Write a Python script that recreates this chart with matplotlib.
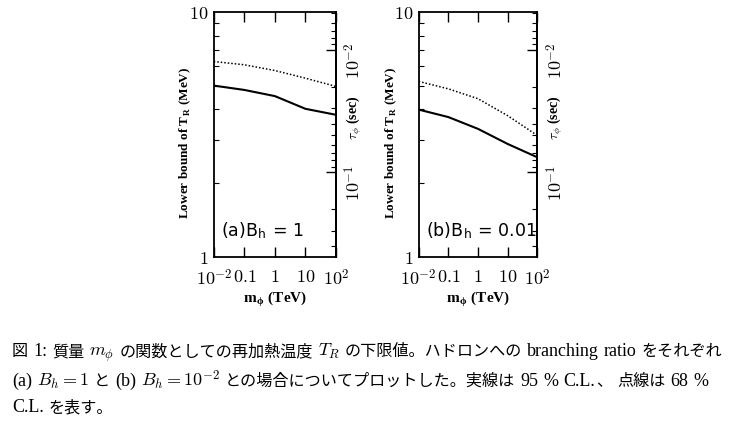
import matplotlib
matplotlib.use('Agg')
import matplotlib.pyplot as plt
import numpy as np
from matplotlib.ticker import LogLocator, NullFormatter, FixedLocator, FixedFormatter

plt.rcParams['mathtext.fontset'] = 'cm'
plt.rcParams['font.family'] = ['Liberation Serif', 'DejaVu Serif']

# data
m_phi = [0.01, 0.1, 1, 10, 100]          # TeV
tr_a_95 = [5.00, 4.80, 4.53, 4.02, 3.80]  # MeV, solid
tr_a_68 = [6.27, 6.08, 5.76, 5.36, 4.96]  # MeV, dotted
tr_b_95 = [3.99, 3.72, 3.33, 2.89, 2.55]
tr_b_68 = [5.20, 4.85, 4.42, 3.77, 3.13]
panel_labels = [r'(a)B$_\mathregular{h}$ = 1', r'(b)B$_\mathregular{h}$ = 0.01']
x_ticks = [0.01, 0.1, 1, 10, 100]
x_ticklabels = [r'$10^{-2}$', r'$0.1$', r'$1$', r'$10$', r'$10^{2}$']
tau_ticks = [0.01, 0.1]
tau_ticklabels = [r'$10^{-2}$', r'$10^{-1}$']
caption = [
    r'図 1: 質量 $m_\phi$ の関数としての再加熱温度 $T_R$ の下限値。ハドロンへの branching ratio をそれぞれ',
    r'(a) $B_h = 1$ と (b) $B_h = 10^{-2}$ との場合についてプロットした。実線は 95 % C.L.、 点線は 68 %',
    'C.L. を表す。',
]

# tau ~ 1/T^2
C_TAU = 0.49
def t_to_tau(t):
    return C_TAU / np.asarray(t, dtype=float) ** 2
def tau_to_t(tau):
    return np.sqrt(C_TAU / np.asarray(tau, dtype=float))

fig = plt.figure(figsize=(7.32, 4.27), dpi=100)
ax_a = fig.add_axes([0.292, 0.396, 0.167, 0.574])
ax_b = fig.add_axes([0.572, 0.396, 0.162, 0.574])

for ax, solid, dotted, lab in [(ax_a, tr_a_95, tr_a_68, panel_labels[0]),
                               (ax_b, tr_b_95, tr_b_68, panel_labels[1])]:
    ax.plot(m_phi, solid, color='black', lw=1.5)
    ax.plot(m_phi, dotted, color='black', lw=1.1, ls=(0, (1, 1.3)))
    ax.set_xscale('log')
    ax.set_yscale('log')
    ax.set_xlim(0.01, 100)
    ax.set_ylim(1, 10)
    ax.xaxis.set_major_locator(FixedLocator(x_ticks))
    ax.xaxis.set_major_formatter(FixedFormatter(x_ticklabels))
    ax.xaxis.set_minor_locator(LogLocator(base=10, subs=np.arange(2, 10)))
    ax.xaxis.set_minor_formatter(NullFormatter())
    ax.yaxis.set_major_locator(FixedLocator([1, 10]))
    ax.yaxis.set_major_formatter(FixedFormatter([r'$1$', r'$10$']))
    ax.yaxis.set_minor_locator(LogLocator(base=10, subs=np.arange(2, 10)))
    ax.yaxis.set_minor_formatter(NullFormatter())
    ax.tick_params(which='both', direction='in', top=True, right=False, labelsize=13)
    ax.tick_params(which='major', length=7, width=1)
    ax.tick_params(which='minor', length=3.5, width=0.8)
    ax.tick_params(axis='x', which='major', pad=8)
    ax.tick_params(axis='y', which='major', length=0, pad=4)
    for s in ax.spines.values():
        s.set_linewidth(1.3)
    ax.set_xlabel(r'm$_\mathregular{\phi}$ (TeV)', fontsize=11, fontweight='bold')
    ax.xaxis.set_label_coords(0.5, -0.128)
    ax.set_ylabel(r'Lower bound of T$_\mathregular{R}$ (MeV)', fontweight='bold', fontsize=9.5)
    ax.yaxis.set_label_coords(-0.17, 0.47)
    ax.text(0.06, 0.09, lab, transform=ax.transAxes, fontsize=12.5, family='DejaVu Sans')

    sec = ax.secondary_yaxis('right', functions=(t_to_tau, tau_to_t))
    sec.yaxis.set_major_locator(FixedLocator(tau_ticks))
    sec.yaxis.set_major_formatter(FixedFormatter(tau_ticklabels))
    sec.yaxis.set_minor_locator(LogLocator(base=10, subs=np.arange(2, 10)))
    sec.yaxis.set_minor_formatter(NullFormatter())
    sec.tick_params(which='both', direction='in', labelsize=13, labelrotation=90, pad=6)
    sec.tick_params(which='major', length=7, width=1)
    sec.tick_params(which='minor', length=3.5, width=0.8)
    sec.spines['right'].set_linewidth(1.3)
    ax.text(1.15, 0.57, r'$\mathbf{\tau_\phi}$ (sec)', transform=ax.transAxes,
            rotation=90, ha='center', va='center', fontweight='bold', fontsize=10)

# caption: CJK runs in Noto Sans CJK, latin in a serif, math through mathtext
renderer = fig.canvas.get_renderer()
W = fig.bbox.width
CJK_SIZE = 11.6
LAT_SIZE = 13.0
SPACE_PX = LAT_SIZE * 0.22 * 100 / 72

def split_runs(s):
    runs = []
    i = 0
    while i < len(s):
        c = s[i]
        if c == '$':
            j = s.index('$', i + 1)
            runs.append(('math', s[i:j + 1]))
            i = j + 1
        elif c == ' ':
            runs.append(('space', ' '))
            i += 1
        else:
            kind = 'cjk' if ord(c) > 0x2E80 else 'lat'
            j = i
            while j < len(s) and s[j] not in ' $' and (ord(s[j]) > 0x2E80) == (kind == 'cjk'):
                j += 1
            runs.append((kind, s[i:j]))
            i = j
    return runs

def draw_line(s, x_px, y_frac):
    for kind, txt in split_runs(s):
        if kind == 'space':
            x_px += SPACE_PX
            continue
        if kind == 'cjk':
            t = fig.text(x_px / W, y_frac, txt, family='Noto Sans CJK JP',
                         fontsize=CJK_SIZE, va='baseline')
        else:
            t = fig.text(x_px / W, y_frac, txt, family='Liberation Serif',
                         fontsize=LAT_SIZE, va='baseline')
        x_px += t.get_window_extent(renderer).width + 1

for line, y in zip(caption, [0.166, 0.096, 0.035]):
    draw_line(line, 12, y)

fig.savefig('out.png', dpi=100)
